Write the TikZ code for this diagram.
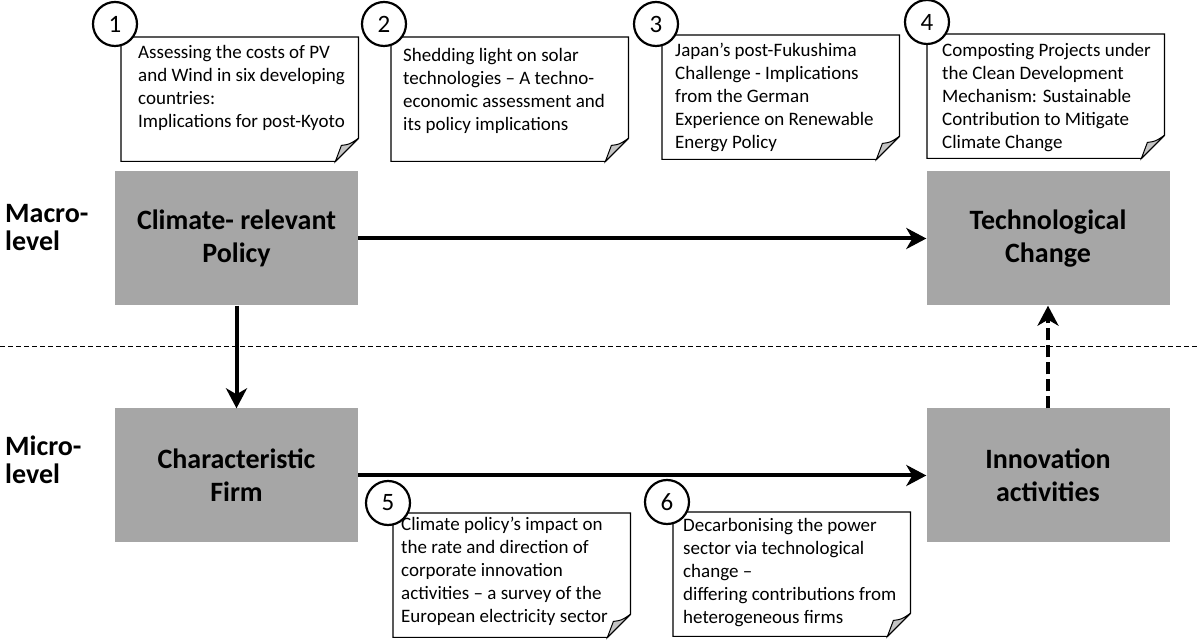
\documentclass[tikz,border=0pt]{standalone}
\usepackage{fontspec}
\setmainfont{Carlito}
\usepackage{tikz}
\usetikzlibrary{arrows.meta,positioning,calc}
\definecolor{boxgray}{HTML}{A6A6A6}
\definecolor{foldgray}{HTML}{C4C4C4}

\begin{document}
\begin{tikzpicture}[x=1pt,y=1pt,
  blk/.style={fill=boxgray,minimum width=243pt,minimum height=134pt,inner sep=0pt,align=center,font=\bfseries\fontsize{28}{33}\selectfont},
  lvl/.style={anchor=west,align=left,inner sep=0pt,font=\bfseries\fontsize{28}{28}\selectfont},
  rx/.style={-{Stealth[length=20pt,width=21pt,inset=6pt]},line width=4pt},
  note/.style={anchor=north west,minimum width=237pt,minimum height=124pt,inner sep=0pt,
    append after command={\pgfextra{
      \draw[line width=1.2pt] (\tikzlastnode.north west) -- (\tikzlastnode.north east)
        -- ([yshift=23pt]\tikzlastnode.south east) -- ([xshift=-23pt]\tikzlastnode.south east)
        -- (\tikzlastnode.south west) -- cycle;
      \draw[line width=1pt,fill=foldgray] ([yshift=23pt]\tikzlastnode.south east)
        .. controls ([xshift=-9pt,yshift=17pt]\tikzlastnode.south east) .. ([xshift=-17pt,yshift=16pt]\tikzlastnode.south east)
        -- ([xshift=-23pt]\tikzlastnode.south east) -- cycle;}}},
  txt/.style={align=left,inner sep=0pt,font=\fontsize{19}{23}\selectfont},
  num/.style={circle,draw,line width=2.2pt,fill=white,minimum size=44pt,inner sep=0pt,font=\fontsize{25}{25}\selectfont}]
  \useasboundingbox (0,0) rectangle (1197,640);

  % levels
  \draw[line width=1pt,dash pattern=on 5pt off 3pt] (0,293) -- (1197,293);
  \node[lvl] (mac) at (5,412.5) {Macro-\\level};
  \node[lvl] (mic) at (5,180) {Micro-\\level};

  % blocks
  \node[blk] (pol) at (236.5,401.5) {Climate- relevant\\Policy};
  \node[blk] (tec) at (1048,401.5) {Technological\\Change};
  \node[blk] (firm) at (236.5,164.5) {Characteristic\\Firm};
  \node[blk] (inno) at (1048,164.5) {Innovation\\activities};
  \draw[rx] (pol) -- (tec);
  \draw[rx] (pol) -- (firm);
  \draw[rx] (firm) -- (inno);
  \draw[rx,dash pattern=on 12pt off 5pt] (inno) -- (tec);

  % papers
  \node[note] (n1) at (121,603) {};
  \node[note] (n2) at (391,603) {};
  \node[note] (n3) at (662,605) {};
  \node[note] (n4) at (927,606) {};
  \node[note] (n5) at (393,127) {};
  \node[note] (n6) at (673,128) {};
  \node[txt,below right=8pt and 17pt of n1.north west] (t1) {Assessing the costs of PV\\and Wind in six developing\\countries:\\Implications for post-Kyoto};
  \node[txt,below right=11pt and 12pt of n2.north west] (t2) {Shedding light on solar\\technologies – A techno-\\economic assessment and\\its policy implications};
  \node[txt,below right=8pt and 13pt of n3.north west] (t3) {Japan’s post-Fukushima\\Challenge - Implications\\from the German\\Experience on Renewable\\Energy Policy};
  \node[txt,below right=9pt and 15pt of n4.north west] (t4) {Composting Projects under\\the Clean Development\\Mechanism: Sustainable\\Contribution to Mitigate\\Climate Change};
  \node[txt,below right=4pt and 8pt of n5.north west] (t5) {Climate policy’s impact on\\the rate and direction of\\corporate innovation\\activities – a survey of the\\European electricity sector};
  \node[txt,below right=6pt and 10pt of n6.north west] (t6) {Decarbonising the power\\sector via technological\\change –\\differing contributions from\\heterogeneous firms};
  \node[num] (c1) at ([shift={(-6pt,13pt)}]n1.north west) {1};
  \node[num] (c2) at ([shift={(-7pt,13pt)}]n2.north west) {2};
  \node[num] (c3) at ([shift={(-6pt,11pt)}]n3.north west) {3};
  \node[num] (c4) at ([shift={(0pt,12pt)}]n4.north west) {4};
  \node[num] (c5) at ([shift={(-5pt,10pt)}]n5.north west) {5};
  \node[num] (c6) at ([shift={(-6pt,10pt)}]n6.north west) {6};
\end{tikzpicture}
\end{document}
